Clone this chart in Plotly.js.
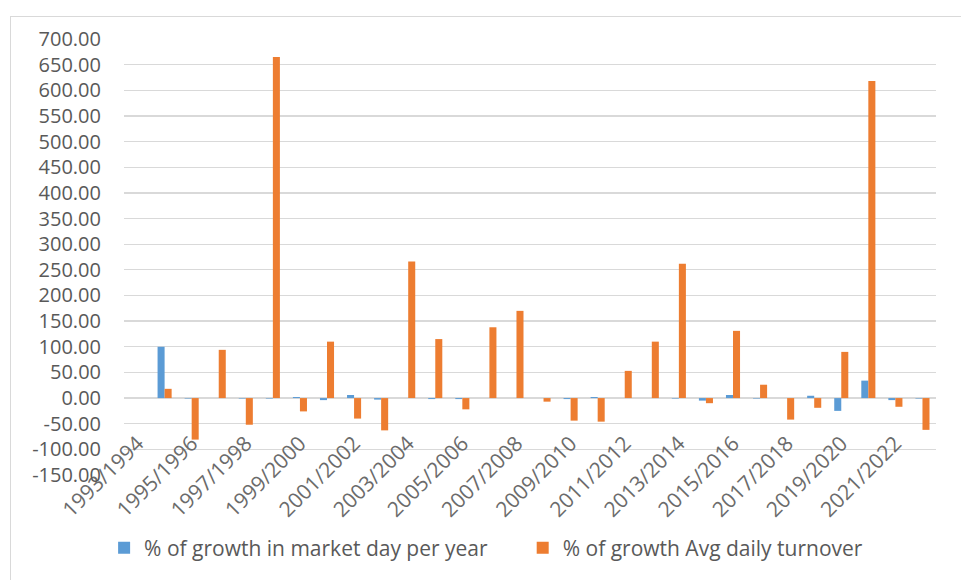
<!DOCTYPE html>
<html>
<head>
<meta charset="utf-8">
<script src="https://cdn.plot.ly/plotly-3.0.1.min.js"></script>
<style>
  html, body { margin: 0; padding: 0; background: #ffffff; }
  #chart { position: absolute; left: 0; top: 0; width: 961px; height: 580px; }
  #frame { position: absolute; left: 10px; top: 16px; width: 960px; height: 600px;
           border-left: 1px solid #d9d9d9; border-top: 1px solid #d9d9d9; pointer-events: none; }
</style>
</head>
<body>
<div id="chart"></div>
<div id="frame"></div>
<script>
const categories = [
  "1993/1994","1994/1995","1995/1996","1996/1997","1997/1998","1998/1999",
  "1999/2000","2000/2001","2001/2002","2002/2003","2003/2004","2004/2005",
  "2005/2006","2006/2007","2007/2008","2008/2009","2009/2010","2010/2011",
  "2011/2012","2012/2013","2013/2014","2014/2015","2015/2016","2016/2017",
  "2017/2018","2018/2019","2019/2020","2020/2021","2021/2022","2022/2023"
];
const marketDayGrowth = [
  null, 100, -1, null, -1, -1,
  2, -4, 6, -3, null, -2,
  -2, null, null, null, -2, 2,
  null, null, -1, -5, 6, -1,
  null, 4.5, -25, 34, -4, -1
];
const turnoverGrowth = [
  null, 18, -81, 94, -52, 665,
  -26, 110, -40, -63, 266, 115,
  -22, 138, 170, -7, -44, -46,
  53, 110, 262, -10, 131, 26,
  -42, -19, 90, 618, -17, -62
];
const seriesNames = ["% of growth in market day per year", "% of growth Avg daily turnover"];
const yTickVals = [-150, -100, -50, 0, 50, 100, 150, 200, 250, 300, 350, 400, 450, 500, 550, 600, 650, 700];
const xTickLabels = categories.filter((c, i) => i % 2 === 0);

const yMin = -150, yMax = 700;
const fontFam = "'Open Sans', 'Liberation Sans', sans-serif";
const txtCol = "#595959";

const traces = [
  { type: "bar", x: categories, y: marketDayGrowth, name: seriesNames[0],
    marker: { color: "#5B9BD5" }, legend: "legend" },
  { type: "bar", x: categories, y: turnoverGrowth, name: seriesNames[1],
    marker: { color: "#ED7D31" }, legend: "legend2" }
];

const layout = {
  width: 961, height: 580,
  margin: { l: 124, r: 25, t: 39, b: 105 },
  paper_bgcolor: "rgba(255,255,255,0)",
  plot_bgcolor: "rgba(255,255,255,0)",
  barmode: "group",
  bargap: 0.48,
  bargroupgap: 0,
  font: { family: fontFam, color: txtCol, size: 20 },
  xaxis: {
    type: "category",
    categoryorder: "array", categoryarray: categories,
    tickvals: xTickLabels, ticktext: xTickLabels,
    tickangle: -45,
    anchor: "free",
    position: (0 - yMin) / (yMax - yMin),
    showgrid: false, zeroline: false, showline: false,
    ticks: "", ticklabelstandoff: 28,
    tickfont: { family: fontFam, size: 21, color: "#6b6b6b" },
    range: [-0.5, categories.length - 0.5]
  },
  yaxis: {
    range: [yMin, yMax],
    tickvals: yTickVals,
    ticktext: yTickVals.map(v => v.toFixed(2)),
    showgrid: true, gridcolor: "#d9d9d9", gridwidth: 1.3,
    zeroline: true, zerolinecolor: "#d9d9d9", zerolinewidth: 1.3,
    showline: false, ticks: "",
    ticklabelstandoff: 22,
    tickfont: { family: fontFam, size: 20, color: txtCol }
  },
  legend: {
    orientation: "h", x: -0.0245, xanchor: "left", y: -0.1674, yanchor: "middle",
    font: { family: fontFam, size: 21, color: txtCol }, bgcolor: "rgba(0,0,0,0)"
  },
  legend2: {
    orientation: "h", x: 0.491, xanchor: "left", y: -0.1674, yanchor: "middle",
    font: { family: fontFam, size: 21, color: txtCol }, bgcolor: "rgba(0,0,0,0)"
  },
  showlegend: true
};

Plotly.newPlot("chart", traces, layout, { displayModeBar: false, staticPlot: true });
</script>
</body>
</html>
